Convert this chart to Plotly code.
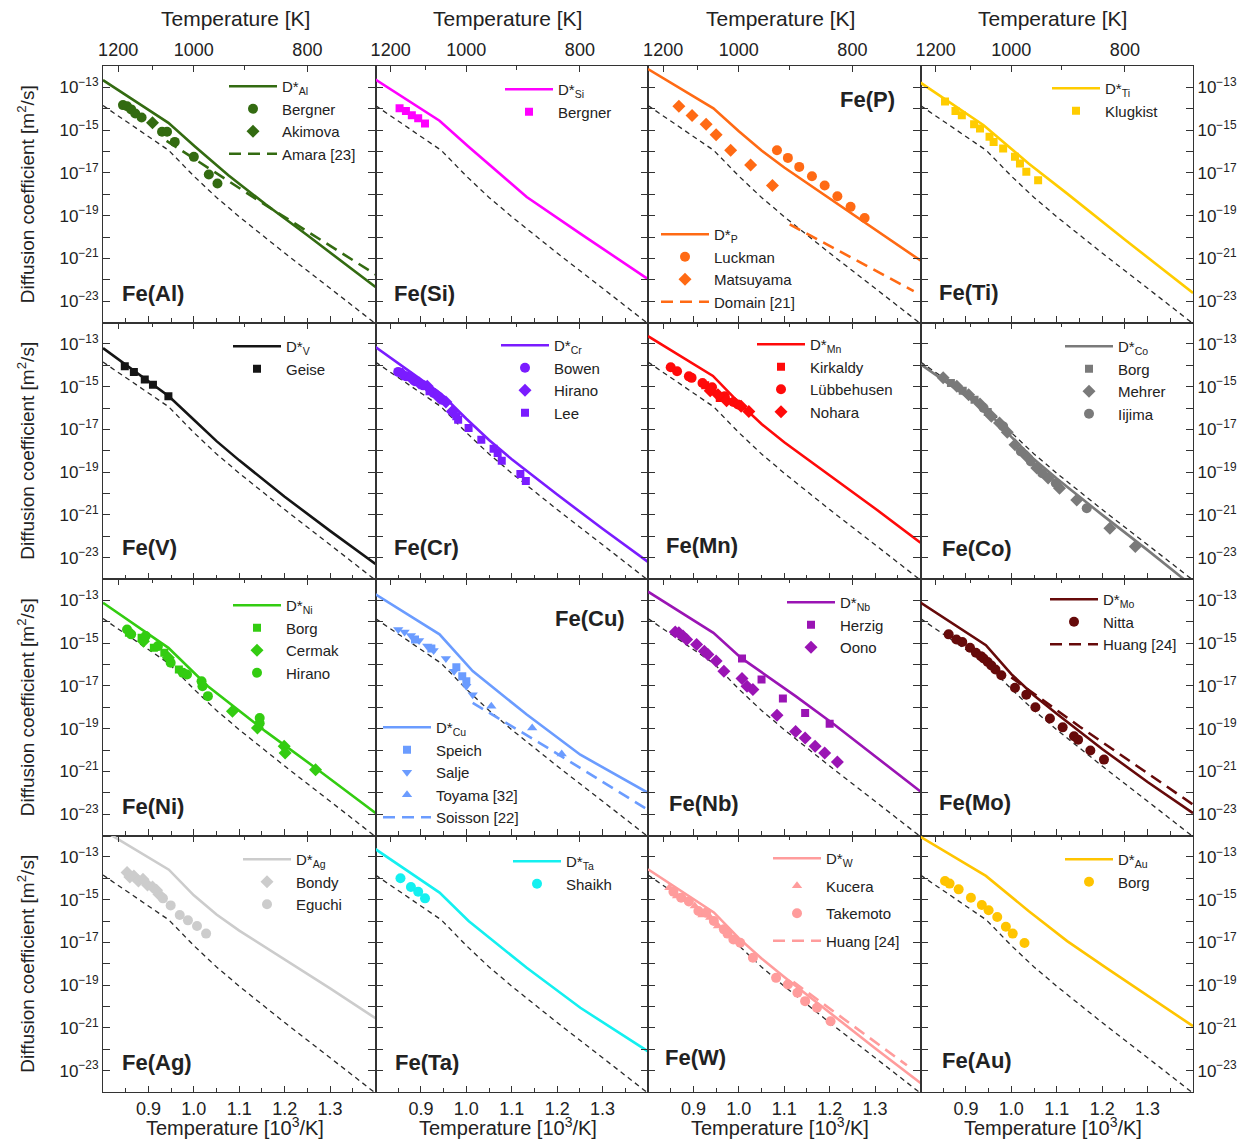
import plotly.graph_objects as go
from plotly.subplots import make_subplots

# ---------------------------------------------------------------------------
# Axis ranges (x: 1000/T in 10^3/K, y: log10 of D in m^2/s)
X_MIN, X_MAX = 0.8, 1.4
LOGD_MIN, LOGD_MAX = -24, -12

top_temps_major = [1200, 1000, 800]
top_temps_minor = [1100, 900]
bottom_major = [0.9, 1.0, 1.1, 1.2, 1.3]
bottom_minor = [0.85, 0.95, 1.05, 1.15, 1.25, 1.35]

# Fe self-diffusion (thin dashed black line shown in every panel)
fe_self_x = [0.80, 0.945, 1.00, 1.05, 1.10, 1.20, 1.30, 1.40]
fe_self_logd = [-13.85, -15.95, -17.15, -18.15, -19.05, -20.75, -22.40, -24.05]

# ---- Fe(Al)
al_model_x = [0.80, 0.944, 1.003, 1.076, 1.158, 1.25, 1.40]
al_model_logd = [-12.66, -14.66, -15.78, -17.11, -18.47, -19.92, -22.34]
al_bergner_x = [0.844, 0.853, 0.862, 0.871, 0.885, 0.930, 0.941, 0.958, 1.000, 1.033, 1.052]
al_bergner_logd = [-13.83, -13.88, -14.03, -14.22, -14.41, -15.08, -15.08, -15.55, -16.25, -17.08, -17.50]
al_akimova_x = [0.909]
al_akimova_logd = [-14.66]
al_amara_x = [0.94, 1.15, 1.40]
al_amara_logd = [-15.50, -18.40, -21.75]

# ---- Fe(Si)
si_model_x = [0.80, 0.941, 1.005, 1.133, 1.251, 1.40]
si_model_logd = [-12.63, -14.56, -15.78, -18.13, -19.84, -21.97]
si_bergner_x = [0.853, 0.867, 0.880, 0.894, 0.909]
si_bergner_logd = [-13.98, -14.11, -14.30, -14.45, -14.69]

# ---- Fe(P)
p_model_x = [0.80, 0.944, 1.00, 1.05, 1.10, 1.20, 1.30, 1.40]
p_model_logd = [-12.14, -13.98, -15.05, -15.95, -16.75, -18.20, -19.65, -21.10]
p_luckman_x = [1.084, 1.108, 1.133, 1.161, 1.189, 1.217, 1.246, 1.277]
p_luckman_logd = [-15.94, -16.30, -16.72, -17.16, -17.59, -18.09, -18.59, -19.11]
p_matsuyama_x = [0.868, 0.897, 0.928, 0.950, 0.982, 1.026, 1.074]
p_matsuyama_logd = [-13.88, -14.31, -14.72, -15.22, -15.94, -16.63, -17.59]
p_domain_x = [1.112, 1.385]
p_domain_logd = [-19.41, -22.53]

# ---- Fe(Ti)
ti_model_x = [0.80, 0.939, 1.038, 1.123, 1.251, 1.40]
ti_model_logd = [-12.78, -14.77, -16.56, -17.97, -20.14, -22.62]
ti_klugkist_x = [0.854, 0.877, 0.891, 0.918, 0.931, 0.952, 0.961, 0.982, 1.008, 1.019, 1.033, 1.059]
ti_klugkist_logd = [-13.66, -14.11, -14.30, -14.72, -14.92, -15.31, -15.55, -15.86, -16.25, -16.56, -16.95, -17.34]

# ---- Fe(V)
v_model_x = [0.80, 0.945, 1.00, 1.05, 1.10, 1.20, 1.30, 1.40]
v_model_logd = [-13.20, -15.45, -16.55, -17.55, -18.45, -20.15, -21.75, -23.30]
v_geise_x = [0.848, 0.868, 0.892, 0.910, 0.944]
v_geise_logd = [-14.05, -14.31, -14.67, -14.91, -15.45]

# ---- Fe(Cr)
cr_model_x = [0.80, 0.945, 1.00, 1.05, 1.10, 1.20, 1.30, 1.40]
cr_model_logd = [-13.15, -15.35, -16.50, -17.50, -18.40, -20.05, -21.65, -23.20]
cr_bowen_x = [0.850, 0.868, 0.887, 0.905, 0.928, 0.946]
cr_bowen_logd = [-14.31, -14.52, -14.75, -14.94, -15.30, -15.61]
cr_hirano_x = [0.859, 0.878, 0.896, 0.914, 0.937, 0.955, 0.969]
cr_hirano_logd = [-14.41, -14.59, -14.83, -14.98, -15.45, -15.72, -16.16]
cr_lee_x = [0.919, 0.978, 0.982, 1.005, 1.033, 1.060, 1.069, 1.078, 1.119, 1.131]
cr_lee_logd = [-15.22, -16.39, -16.55, -16.94, -17.48, -17.91, -18.11, -18.47, -19.09, -19.41]

# ---- Fe(Mn)
mn_model_x = [0.80, 0.943, 1.00, 1.05, 1.10, 1.20, 1.30, 1.40]
mn_model_logd = [-12.64, -14.50, -15.75, -16.75, -17.60, -19.15, -20.70, -22.30]
mn_kirkaldy_x = [0.926, 0.958]
mn_kirkaldy_logd = [-14.94, -15.53]
mn_lubbehusen_x = [0.850, 0.864, 0.890, 0.896, 0.920, 0.941, 0.969, 0.988, 0.998]
mn_lubbehusen_logd = [-14.09, -14.28, -14.52, -14.59, -14.83, -15.03, -15.45, -15.72, -15.84]
mn_nohara_x = [0.937, 0.954, 0.973, 1.005, 1.022]
mn_nohara_logd = [-15.19, -15.38, -15.66, -15.92, -16.16]

# ---- Fe(Co)
co_model_x = [0.80, 0.945, 1.00, 1.05, 1.10, 1.20, 1.30, 1.40]
co_model_logd = [-13.95, -16.10, -17.35, -18.40, -19.30, -21.00, -22.65, -24.35]
co_borg_x = [0.867, 0.893, 0.919, 0.948]
co_borg_logd = [-14.83, -15.19, -15.61, -16.19]
co_mehrer_x = [0.850, 0.880, 0.906, 0.931, 0.956, 0.974, 0.991, 1.008, 1.034, 1.056, 1.081, 1.106, 1.144, 1.217, 1.273]
co_mehrer_logd = [-14.59, -14.98, -15.38, -15.81, -16.39, -16.70, -17.13, -17.72, -18.27, -18.81, -19.28, -19.75, -20.30, -21.63, -22.48]
co_iijima_x = [0.939, 0.982, 1.021, 1.043, 1.068, 1.098, 1.166]
co_iijima_logd = [-16.00, -16.86, -18.03, -18.50, -19.05, -19.52, -20.69]

# ---- Fe(Ni)
ni_model_x = [0.80, 0.944, 1.031, 1.158, 1.268, 1.40]
ni_model_logd = [-13.11, -15.22, -17.02, -19.13, -20.84, -22.95]
ni_borg_x = [0.857, 0.885, 0.912, 0.935, 0.967]
ni_borg_logd = [-14.52, -14.75, -15.22, -15.45, -16.23]
ni_cermak_x = [0.889, 0.944, 1.085, 1.140, 1.199, 1.201, 1.268]
ni_cermak_logd = [-14.91, -15.69, -18.19, -18.97, -19.83, -20.14, -20.92]
ni_hirano_x = [0.853, 0.862, 0.894, 0.921, 0.949, 0.976, 0.985, 1.017, 1.019, 1.031, 1.145, 1.145]
ni_hirano_logd = [-14.36, -14.59, -14.67, -15.14, -15.92, -16.39, -16.47, -16.78, -17.02, -17.48, -18.50, -18.75]

# ---- Fe(Cu)
cu_model_x = [0.80, 0.941, 1.014, 1.133, 1.251, 1.40]
cu_model_logd = [-12.72, -14.59, -16.31, -18.34, -20.22, -22.00]
cu_speich_x = [0.887, 0.923, 0.978, 0.991, 1.000]
cu_speich_logd = [-14.83, -15.25, -16.13, -16.55, -16.78]
cu_salje_x = [0.850, 0.864, 0.878, 0.896, 0.914, 0.928, 0.955, 0.973, 1.000, 1.014]
cu_salje_logd = [-14.36, -14.48, -14.64, -14.88, -15.14, -15.34, -15.72, -16.31, -17.02, -17.41]
cu_toyama_x = [1.055, 1.145, 1.210]
cu_toyama_logd = [-17.95, -18.97, -20.19]
cu_soisson_x = [1.014, 1.16, 1.40]
cu_soisson_logd = [-17.80, -19.65, -22.80]

# ---- Fe(Nb)
nb_model_x = [0.80, 0.944, 1.005, 1.125, 1.21, 1.40]
nb_model_logd = [-12.59, -14.52, -15.69, -17.48, -18.81, -21.94]
nb_herzig_x = [1.007, 1.050, 1.097, 1.146, 1.200]
nb_herzig_logd = [-15.72, -16.70, -17.59, -18.27, -18.77]
nb_oono_x = [0.860, 0.868, 0.877, 0.885, 0.907, 0.924, 0.932, 0.950, 0.967, 1.007, 1.018, 1.031,
             1.084, 1.125, 1.146, 1.168, 1.189, 1.217]
nb_oono_logd = [-14.48, -14.52, -14.67, -14.83, -15.06, -15.38, -15.53, -15.84, -16.31, -16.66, -17.02, -17.17,
                -18.38, -19.13, -19.44, -19.83, -20.14, -20.56]

# ---- Fe(Mo)
mo_model_x = [0.80, 0.944, 1.00, 1.05, 1.10, 1.20, 1.30, 1.40]
mo_model_logd = [-13.10, -15.10, -16.45, -17.45, -18.30, -19.95, -21.50, -22.95]
mo_nitta_x = [0.862, 0.879, 0.892, 0.909, 0.922, 0.933, 0.939, 0.948, 0.956, 0.965, 0.978, 1.008,
              1.033, 1.053, 1.085, 1.113, 1.138, 1.147, 1.174, 1.204]
mo_nitta_logd = [-14.59, -14.83, -14.95, -15.22, -15.45, -15.61, -15.72, -15.88, -16.05, -16.23, -16.50, -17.09,
                 -17.41, -18.00, -18.53, -18.94, -19.36, -19.52, -20.02, -20.45]
mo_huang_x = [1.00, 1.15, 1.40]
mo_huang_logd = [-16.60, -18.90, -22.55]

# ---- Fe(Ag)
ag_model_x = [0.80, 0.945, 1.00, 1.05, 1.10, 1.20, 1.30, 1.40]
ag_model_logd = [-11.75, -13.60, -14.80, -15.70, -16.45, -17.80, -19.15, -20.55]
ag_bondy_x = [0.853, 0.859, 0.868, 0.878, 0.888, 0.898, 0.909, 0.918, 0.923]
ag_bondy_logd = [-13.73, -13.94, -13.89, -14.13, -14.05, -14.31, -14.41, -14.56, -14.75]
ag_eguchi_x = [0.932, 0.949, 0.969, 0.987, 1.007, 1.027]
ag_eguchi_logd = [-14.94, -15.27, -15.72, -15.97, -16.23, -16.59]

# ---- Fe(Ta)
ta_model_x = [0.80, 0.941, 1.005, 1.133, 1.251, 1.40]
ta_model_logd = [-12.64, -14.67, -16.00, -18.19, -20.06, -22.10]
ta_shaikh_x = [0.855, 0.878, 0.894, 0.909]
ta_shaikh_logd = [-14.00, -14.41, -14.63, -14.94]

# ---- Fe(W)
w_model_x = [0.80, 0.945, 1.00, 1.05, 1.10, 1.20, 1.30, 1.40]
w_model_logd = [-13.58, -15.60, -16.80, -17.75, -18.62, -20.30, -21.95, -23.58]
w_kucera_x = [0.847, 0.864, 0.881, 0.903, 0.920, 0.937, 0.954]
w_kucera_logd = [-14.44, -14.83, -14.98, -15.30, -15.72, -15.84, -16.23]
w_takemoto_x = [0.856, 0.873, 0.890, 0.911, 0.928, 0.945, 0.967, 0.975, 0.988, 1.003, 1.031,
                1.082, 1.108, 1.129, 1.146, 1.172, 1.202]
w_takemoto_logd = [-14.63, -14.91, -15.09, -15.53, -15.61, -16.00, -16.39, -16.59, -16.86, -17.02, -17.72,
                   -18.66, -18.97, -19.36, -19.75, -20.06, -20.69]
w_huang_x = [1.12, 1.37]
w_huang_logd = [-18.85, -22.75]

# ---- Fe(Au)
au_model_x = [0.80, 0.944, 1.038, 1.123, 1.209, 1.40]
au_model_logd = [-12.06, -13.89, -15.53, -16.94, -18.19, -20.92]
au_borg_x = [0.854, 0.864, 0.884, 0.911, 0.935, 0.950, 0.969, 0.988, 1.003, 1.029]
au_borg_logd = [-14.13, -14.25, -14.52, -14.91, -15.25, -15.50, -15.81, -16.27, -16.59, -17.03]

# ---------------------------------------------------------------------------
# Panel definitions: label, color, model curve, measured sets, dashed literature
# curves, legend anchor (text x px, first row y px), label anchor (x px, y px)
panels = [
    dict(label="Fe(Al)", color="#336b11", elem="Al",
         model=(al_model_x, al_model_logd),
         data=[("Bergner", "circle", al_bergner_x, al_bergner_logd),
               ("Akimova", "diamond", al_akimova_x, al_akimova_logd)],
         dashed=[("Amara [23]", al_amara_x, al_amara_logd)],
         leg=(284, 87), lab=(120, 293)),
    dict(label="Fe(Si)", color="#ff00ff", elem="Si",
         model=(si_model_x, si_model_logd),
         data=[("Bergner", "square", si_bergner_x, si_bergner_logd)],
         dashed=[], leg=(560, 90), lab=(392, 293)),
    dict(label="Fe(P)", color="#ff6a14", elem="P",
         model=(p_model_x, p_model_logd),
         data=[("Luckman", "circle", p_luckman_x, p_luckman_logd),
               ("Matsuyama", "diamond", p_matsuyama_x, p_matsuyama_logd)],
         dashed=[("Domain [21]", p_domain_x, p_domain_logd)],
         leg=(716, 235), lab=(838, 99)),
    dict(label="Fe(Ti)", color="#ffcc00", elem="Ti",
         model=(ti_model_x, ti_model_logd),
         data=[("Klugkist", "square", ti_klugkist_x, ti_klugkist_logd)],
         dashed=[], leg=(1107, 89), lab=(937, 292)),
    dict(label="Fe(V)", color="#151515", elem="V",
         model=(v_model_x, v_model_logd),
         data=[("Geise", "square", v_geise_x, v_geise_logd)],
         dashed=[], leg=(288, 347), lab=(120, 547)),
    dict(label="Fe(Cr)", color="#7a1cff", elem="Cr",
         model=(cr_model_x, cr_model_logd),
         data=[("Bowen", "circle", cr_bowen_x, cr_bowen_logd),
               ("Hirano", "diamond", cr_hirano_x, cr_hirano_logd),
               ("Lee", "square", cr_lee_x, cr_lee_logd)],
         dashed=[], leg=(556, 346), lab=(392, 547)),
    dict(label="Fe(Mn)", color="#ff0a0a", elem="Mn",
         model=(mn_model_x, mn_model_logd),
         data=[("Kirkaldy", "square", mn_kirkaldy_x, mn_kirkaldy_logd),
               ("Lübbehusen", "circle", mn_lubbehusen_x, mn_lubbehusen_logd),
               ("Nohara", "diamond", mn_nohara_x, mn_nohara_logd)],
         dashed=[], leg=(812, 345), lab=(664, 545)),
    dict(label="Fe(Co)", color="#7a7a7a", elem="Co",
         model=(co_model_x, co_model_logd),
         data=[("Borg", "square", co_borg_x, co_borg_logd),
               ("Mehrer", "diamond", co_mehrer_x, co_mehrer_logd),
               ("Iijima", "circle", co_iijima_x, co_iijima_logd)],
         dashed=[], leg=(1120, 347), lab=(940, 548)),
    dict(label="Fe(Ni)", color="#33cc11", elem="Ni",
         model=(ni_model_x, ni_model_logd),
         data=[("Borg", "square", ni_borg_x, ni_borg_logd),
               ("Cermak", "diamond", ni_cermak_x, ni_cermak_logd),
               ("Hirano", "circle", ni_hirano_x, ni_hirano_logd)],
         dashed=[], leg=(288, 606), lab=(120, 806)),
    dict(label="Fe(Cu)", color="#6b9cff", elem="Cu",
         model=(cu_model_x, cu_model_logd),
         data=[("Speich", "square", cu_speich_x, cu_speich_logd),
               ("Salje", "triangle-down", cu_salje_x, cu_salje_logd),
               ("Toyama [32]", "triangle-up", cu_toyama_x, cu_toyama_logd)],
         dashed=[("Soisson [22]", cu_soisson_x, cu_soisson_logd)],
         leg=(438, 728), lab=(553, 618)),
    dict(label="Fe(Nb)", color="#9a14b4", elem="Nb",
         model=(nb_model_x, nb_model_logd),
         data=[("Herzig", "square", nb_herzig_x, nb_herzig_logd),
               ("Oono", "diamond", nb_oono_x, nb_oono_logd)],
         dashed=[], leg=(842, 603), lab=(667, 803)),
    dict(label="Fe(Mo)", color="#660a0a", elem="Mo",
         model=(mo_model_x, mo_model_logd),
         data=[("Nitta", "circle", mo_nitta_x, mo_nitta_logd)],
         dashed=[("Huang [24]", mo_huang_x, mo_huang_logd)],
         leg=(1105, 600), lab=(937, 802)),
    dict(label="Fe(Ag)", color="#cccccc", elem="Ag",
         model=(ag_model_x, ag_model_logd),
         data=[("Bondy", "diamond", ag_bondy_x, ag_bondy_logd),
               ("Eguchi", "circle", ag_eguchi_x, ag_eguchi_logd)],
         dashed=[], leg=(298, 860), lab=(120, 1062)),
    dict(label="Fe(Ta)", color="#14f0f0", elem="Ta",
         model=(ta_model_x, ta_model_logd),
         data=[("Shaikh", "circle", ta_shaikh_x, ta_shaikh_logd)],
         dashed=[], leg=(568, 862), lab=(393, 1062)),
    dict(label="Fe(W)", color="#ff9c9c", elem="W",
         model=(w_model_x, w_model_logd),
         data=[("Kucera", "triangle-up", w_kucera_x, w_kucera_logd),
               ("Takemoto", "circle", w_takemoto_x, w_takemoto_logd)],
         dashed=[("Huang [24]", w_huang_x, w_huang_logd)],
         leg=(828, 859), lab=(663, 1057), gap=5),
    dict(label="Fe(Au)", color="#ffc400", elem="Au",
         model=(au_model_x, au_model_logd),
         data=[("Borg", "circle", au_borg_x, au_borg_logd)],
         dashed=[], leg=(1120, 860), lab=(940, 1060)),
]

marker_sizes = {"circle": 10, "square": 8, "diamond": 10, "triangle-up": 9, "triangle-down": 9}

# ---------------------------------------------------------------------------
W, H = 1248, 1140
ML, MR, MT, MB = 103, 55, 66, 48
PW, PH = W - ML - MR, H - MT - MB
FONT = "Liberation Sans, Arial, Helvetica, sans-serif"
INK = "#222222"
AXIS = "#333333"
LEG_ITEM_W = 48


def paper_x(px):
    return (px - ML) / PW


def paper_y(py):
    return 1 - (py - MT) / PH


def pow10(vals):
    return [10.0 ** v for v in vals]


fig = make_subplots(rows=4, cols=4, horizontal_spacing=0, vertical_spacing=0)

for i, p in enumerate(panels):
    r, c = i // 4 + 1, i % 4 + 1
    idx = i + 1
    leg_id = "legend" if idx == 1 else f"legend{idx}"
    xid = "x" if idx == 1 else f"x{idx}"
    yid = "y" if idx == 1 else f"y{idx}"

    # Fe self-diffusion reference
    fig.add_trace(go.Scatter(x=fe_self_x, y=pow10(fe_self_logd), mode="lines",
                             line=dict(color="#2a2a2a", width=1.3, dash="5px,4px"),
                             showlegend=False, hoverinfo="skip"), row=r, col=c)
    # model tracer diffusivity
    mx, my = p["model"]
    fig.add_trace(go.Scatter(x=mx, y=pow10(my), mode="lines",
                             line=dict(color=p["color"], width=2.6),
                             name=f"D*<sub>{p['elem']}</sub>", legend=leg_id,
                             legendgroup=f"{idx}-model"), row=r, col=c)
    for name, sym, dx, dy in p["data"]:
        fig.add_trace(go.Scatter(x=dx, y=pow10(dy), mode="markers",
                                 marker=dict(symbol=sym, size=marker_sizes[sym], color=p["color"],
                                             line=dict(width=0)),
                                 name=name, legend=leg_id, legendgroup=f"{idx}-{name}"),
                      row=r, col=c)
    for name, dx, dy in p["dashed"]:
        fig.add_trace(go.Scatter(x=dx, y=pow10(dy), mode="lines",
                                 line=dict(color=p["color"], width=2.6, dash="12px,7px"),
                                 name=name, legend=leg_id, legendgroup=f"{idx}-{name}"),
                      row=r, col=c)

    # legend box for this panel
    tx, ty = p["leg"]
    fig.update_layout({leg_id: dict(
        x=paper_x(tx - LEG_ITEM_W - 12), y=paper_y(ty - 17), xref="paper", yref="paper",
        xanchor="left", yanchor="top", bgcolor="rgba(0,0,0,0)", borderwidth=0,
        itemwidth=LEG_ITEM_W,
        font=dict(family=FONT, size=15, color=INK), tracegroupgap=p.get("gap", 0),
        traceorder="grouped", itemclick=False, itemdoubleclick=False)})

    # panel label
    lx, ly = p["lab"]
    fig.add_annotation(x=paper_x(lx), y=paper_y(ly), xref="paper", yref="paper",
                       text=f"<b>{p['label']}</b>", showarrow=False, xanchor="left",
                       yanchor="middle", font=dict(family=FONT, size=22, color=INK))

    # bottom x axis: 1000/T
    fig.update_xaxes(row=r, col=c, range=[X_MIN, X_MAX], tickmode="array",
                     tickvals=bottom_major, ticktext=[f"{v:.1f}" for v in bottom_major],
                     showticklabels=(r == 4), ticks="inside", ticklen=6, tickwidth=1.2,
                     tickcolor=AXIS, minor=dict(tickmode="array", tickvals=bottom_minor,
                                                ticks="inside", ticklen=4, tickwidth=1.2,
                                                tickcolor=AXIS),
                     showline=True, linecolor=AXIS, linewidth=1.1, mirror=True,
                     showgrid=False, zeroline=False,
                     tickfont=dict(family=FONT, size=18, color=INK))

    # y axis: log D
    ytext = [f"10<sup>\u2212{-e}</sup>" if e % 2 else "" for e in range(LOGD_MIN, LOGD_MAX + 1)]
    fig.update_yaxes(row=r, col=c, type="log", range=[LOGD_MIN, LOGD_MAX], tickmode="array",
                     tickvals=[10.0 ** e for e in range(LOGD_MIN, LOGD_MAX + 1)], ticktext=ytext,
                     showticklabels=(c in (1, 4)), side=("right" if c == 4 else "left"),
                     ticks="inside", ticklen=7, tickwidth=1.2, tickcolor=AXIS,
                     showline=True, linecolor=AXIS, linewidth=1.1, mirror="ticks",
                     showgrid=False, zeroline=False,
                     tickfont=dict(family=FONT, size=17, color=INK))

    # top x axis: temperature in K
    top_id = f"xaxis{16 + idx}"
    fig.update_layout({top_id: dict(
        overlaying=xid, anchor=yid, side="top", range=[X_MIN, X_MAX], tickmode="array",
        tickvals=[1000.0 / t for t in top_temps_major], ticktext=[str(t) for t in top_temps_major],
        showticklabels=(r == 1), ticks="inside", ticklen=6, tickwidth=1.2, tickcolor=AXIS,
        ticklabelstandoff=5,
        minor=dict(tickmode="array", tickvals=[1000.0 / t for t in top_temps_minor],
                   ticks="inside", ticklen=4, tickwidth=1.2, tickcolor=AXIS),
        showline=False, showgrid=False, zeroline=False,
        tickfont=dict(family=FONT, size=18, color=INK))})
    fig.add_trace(go.Scatter(x=[], y=[], xaxis=f"x{16 + idx}", yaxis=yid, showlegend=False,
                             hoverinfo="skip"))

# axis titles
col_w = PW / 4
row_h = PH / 4
for c in range(4):
    cx = ML + col_w * (c + 0.5) - 4
    fig.add_annotation(x=paper_x(cx), y=paper_y(18), xref="paper", yref="paper",
                       text="Temperature [K]", showarrow=False, xanchor="center", yanchor="middle",
                       font=dict(family=FONT, size=21, color=INK))
    fig.add_annotation(x=paper_x(cx), y=paper_y(1140), xref="paper", yref="paper",
                       text="Temperature [10<sup>3</sup>/K]", showarrow=False, xanchor="center",
                       yanchor="bottom", borderpad=0, font=dict(family=FONT, size=20, color=INK))
for r in range(4):
    cy = MT + row_h * (r + 0.5)
    fig.add_annotation(x=paper_x(26), y=paper_y(cy), xref="paper", yref="paper",
                       text="Diffusion coefficient [m<sup>2</sup>/s]", showarrow=False,
                       textangle=-90, xanchor="center", yanchor="middle",
                       font=dict(family=FONT, size=19, color=INK))

fig.update_layout(width=W, height=H, margin=dict(l=ML, r=MR, t=MT, b=MB),
                  paper_bgcolor="white", plot_bgcolor="white",
                  font=dict(family=FONT, color=INK))

fig.write_html("out.html")
